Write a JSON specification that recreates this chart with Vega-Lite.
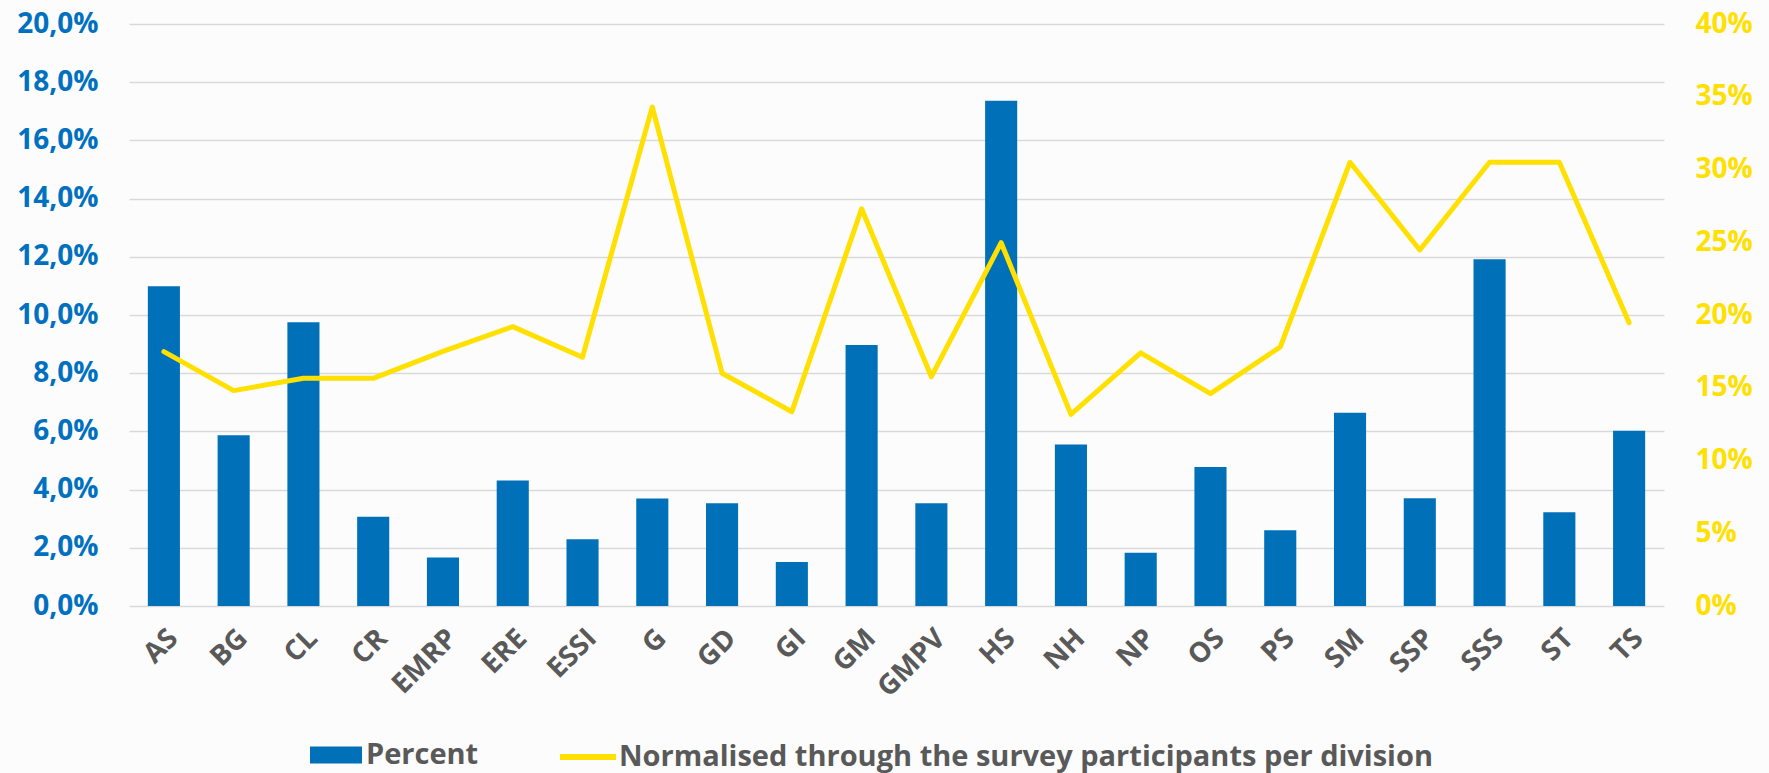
{
  "$schema": "https://vega.github.io/schema/vega-lite/v6.json",
  "autosize": {"type": "none"},
  "padding": {"left": 129, "top": 24, "right": 105, "bottom": 167},
  "width": 1535,
  "height": 582,
  "background": "#fcfcfc",
  "config": {
    "font": "Open Sans",
    "view": {"stroke": null},
    "axis": {"domain": false, "ticks": false, "labelFont": "Open Sans", "labelFontWeight": "bold", "titleFont": "Open Sans"},
    "legend": {"labelFont": "Open Sans", "labelFontWeight": "bold", "labelFontSize": 29, "labelColor": "#595959", "padding": 0, "labelLimit": 2000, "title": null}
  },
  "data": {
    "values": [
      {"division": "AS", "percent": 0.1099, "normalised": 0.1748},
      {"division": "BG", "percent": 0.0587, "normalised": 0.148},
      {"division": "CL", "percent": 0.0975, "normalised": 0.1565},
      {"division": "CR", "percent": 0.0307, "normalised": 0.1565},
      {"division": "EMRP", "percent": 0.0167, "normalised": 0.175},
      {"division": "ERE", "percent": 0.0431, "normalised": 0.192},
      {"division": "ESSI", "percent": 0.0229, "normalised": 0.171},
      {"division": "G", "percent": 0.0369, "normalised": 0.343},
      {"division": "GD", "percent": 0.0353, "normalised": 0.16},
      {"division": "GI", "percent": 0.0151, "normalised": 0.1335},
      {"division": "GM", "percent": 0.0897, "normalised": 0.273},
      {"division": "GMPV", "percent": 0.0353, "normalised": 0.1576},
      {"division": "HS", "percent": 0.1736, "normalised": 0.2497},
      {"division": "NH", "percent": 0.0555, "normalised": 0.1317},
      {"division": "NP", "percent": 0.0183, "normalised": 0.174},
      {"division": "OS", "percent": 0.0478, "normalised": 0.146},
      {"division": "PS", "percent": 0.026, "normalised": 0.178},
      {"division": "SM", "percent": 0.0664, "normalised": 0.305},
      {"division": "SSP", "percent": 0.037, "normalised": 0.2447},
      {"division": "SSS", "percent": 0.1192, "normalised": 0.305},
      {"division": "ST", "percent": 0.0322, "normalised": 0.305},
      {"division": "TS", "percent": 0.0602, "normalised": 0.1947}
    ]
  },
  "encoding": {
    "x": {
      "field": "division", "type": "nominal", "sort": null,
      "scale": {"paddingInner": 0.54, "paddingOuter": 0.27},
      "axis": {"title": null, "labelAngle": -45, "labelFontSize": 28, "labelColor": "#595959", "labelPadding": 18, "grid": false}
    }
  },
  "layer": [
    {
      "mark": {"type": "bar"},
      "encoding": {
        "y": {
          "field": "percent", "type": "quantitative",
          "scale": {"domain": [0, 0.2], "nice": false},
          "axis": {
            "title": null, "orient": "left",
            "values": [0, 0.02, 0.04, 0.06, 0.08, 0.1, 0.12, 0.14, 0.16, 0.18, 0.2],
            "labelExpr": "replace(format(datum.value, '.1%'), '.', ',')",
            "labelFontSize": 28, "labelColor": "#0070C0", "labelPadding": 31,
            "grid": true, "gridColor": "#d9d9d9", "gridWidth": 1.5
          }
        },
        "color": {
          "datum": "Percent",
          "scale": {"range": ["#0070B8"]},
          "legend": {
            "orient": "none", "legendX": 181, "legendY": 705, "labelOffset": 4,
            "symbolType": "M-1,-0.33L1,-0.33L1,0.33L-1,0.33Z",
            "symbolSize": 2704, "symbolStrokeWidth": 0, "symbolOpacity": 1
          }
        }
      }
    },
    {
      "mark": {"type": "line", "strokeWidth": 5, "strokeJoin": "round", "strokeCap": "round"},
      "encoding": {
        "y": {
          "field": "normalised", "type": "quantitative",
          "scale": {"domain": [0, 0.4], "nice": false},
          "axis": {
            "title": null, "orient": "right",
            "values": [0, 0.05, 0.1, 0.15, 0.2, 0.25, 0.3, 0.35, 0.4],
            "format": ".0%",
            "labelFontSize": 28, "labelColor": "#FFE000", "labelPadding": 31,
            "grid": false
          }
        },
        "stroke": {
          "datum": "Normalised through the survey participants per division",
          "scale": {"range": ["#FFE000"]},
          "legend": {
            "orient": "none", "legendX": 428, "legendY": 702, "labelOffset": 0,
            "symbolType": "stroke", "symbolSize": 3136, "symbolStrokeWidth": 6
          }
        }
      }
    }
  ],
  "resolve": {"scale": {"y": "independent"}}
}
